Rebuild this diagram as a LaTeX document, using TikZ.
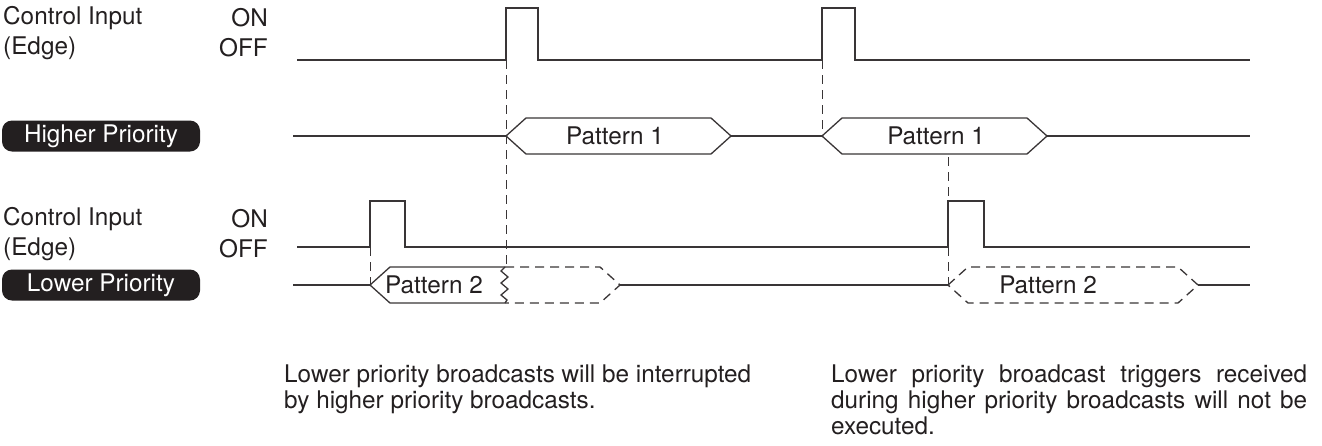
\documentclass[tikz,border=0pt]{standalone}
\usepackage{fontspec}
\setmainfont{TeX Gyre Heros}
\definecolor{ink}{HTML}{231F20}
\begin{document}
\begin{tikzpicture}[x=1pt,y=-1pt,
  font=\fontsize{24.3}{26}\selectfont, color=ink,
  lbl/.style={inner sep=0pt, text=ink},
  tag/.style={fill=ink, text=white, rounded corners=10pt, minimum width=198pt, minimum height=31pt, inner sep=0pt},
  sig/.style={line width=1.3pt, draw=ink!90},
  guide/.style={line width=1pt, draw=ink!90, dash pattern=on 9pt off 6pt},
  ghost/.style={line width=1.3pt, draw=ink!90, dash pattern=on 9pt off 6pt},
  note/.style={inner sep=0pt, text=ink, anchor=north west}]
\useasboundingbox (0,0) rectangle (1322,445);

% ---- upper control input ----
\node[lbl, anchor=west] (ci1) at (3,18) {Control Input};
\node[lbl, anchor=east] (on1) at (268,18) {ON};
\node[lbl, anchor=west] (ed1) at (3,48) {(Edge)};
\node[lbl, anchor=east] (off1) at (268,48) {OFF};
\draw[sig] (297,60) -- (506,60) -- (506,8) -- (538,8) -- (538,60) -- (822,60) -- (822,8) -- (855,8) -- (855,60) -- (1250,60);

% ---- higher priority ----
\node[tag] (hp) at (101,136) {Higher Priority};
\draw[sig] (293,136) -- (506,136);
\draw[sig] (506,136) -- (526,118) -- (711,118) -- (731,136) -- (711,154) -- (526,154) -- cycle;
\draw[sig] (731,136) -- (822,136);
\draw[sig] (822,136) -- (842,118) -- (1027,118) -- (1047,136) -- (1027,154) -- (842,154) -- cycle;
\draw[sig] (1047,136) -- (1250,136);
\node[lbl] (p1a) at (615,136) {Pattern 1};
\node[lbl] (p1b) at (936,136) {Pattern 1};

% ---- lower control input ----
\node[lbl, anchor=west] (ci2) at (3,219) {Control Input};
\node[lbl, anchor=east] (on2) at (268,219) {ON};
\node[lbl, anchor=west] (ed2) at (3,249) {(Edge)};
\node[lbl, anchor=east] (off2) at (268,249) {OFF};
\draw[sig] (297,247) -- (370,247) -- (370,201) -- (405,201) -- (405,247) -- (948,247) -- (948,201) -- (984,201) -- (984,247) -- (1250,247);

% ---- lower priority ----
\node[tag] (lp) at (101,285) {Lower Priority};
\draw[sig] (293,285) -- (370,285);
\draw[sig] (505,267) -- (390,267) -- (370,285) -- (390,303) -- (505,303);
\draw[sig] (505,267) -- (501,271) -- (508,277) -- (501,283) -- (508,289) -- (501,295) -- (507,300) -- (505,303);
\draw[ghost] (505,267) -- (600,267) -- (620,285) -- (600,303) -- (505,303);
\draw[sig] (620,285) -- (948,285);
\draw[ghost] (948,285) -- (968,267) -- (1178,267) -- (1198,285) -- (1178,303) -- (968,303) -- cycle;
\draw[sig] (1198,285) -- (1250,285);
\node[lbl] (p2a) at (434,285) {Pattern 2};
\node[lbl] (p2b) at (1048,285) {Pattern 2};

% ---- dashed guides ----
\draw[guide] (370,247) -- (370,285);
\draw[guide] (506,60) -- (506,267);
\draw[guide] (822,60) -- (822,136);
\draw[guide] (948,157) -- (948,285);

% ---- notes ----
\node[note, align=left] (n1) at (284,365) {Lower priority broadcasts will be interrupted\\by higher priority broadcasts.};
\node[note, text width=476pt, align=justify] (n2) at (831,365) {Lower priority broadcast triggers received during higher priority broadcasts will not be executed.};
\end{tikzpicture}
\end{document}
